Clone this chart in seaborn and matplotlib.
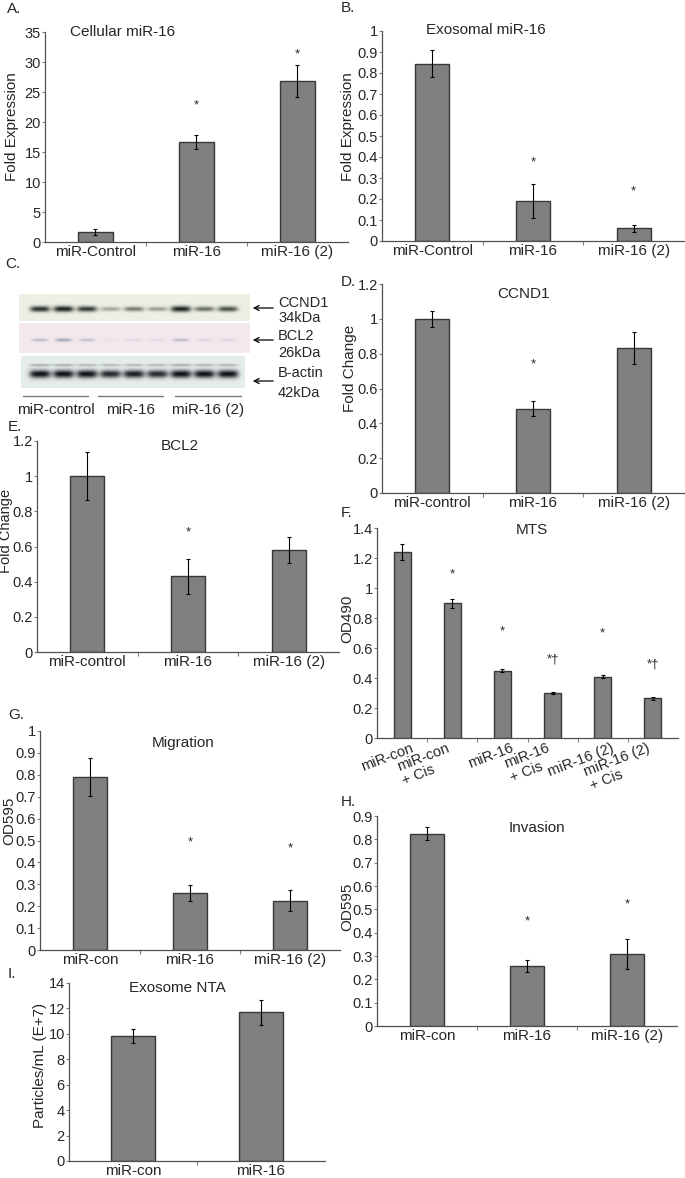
import numpy as np
import matplotlib
matplotlib.use("Agg")
import matplotlib.pyplot as plt
import matplotlib.transforms as mtransforms
import seaborn as sns

sns.set_theme(style="white")
plt.rcParams['font.family'] = ['Liberation Sans', 'DejaVu Sans']

W, H = 685, 1178
BAR = '#808080'
EDGE = '#383838'

# A - cellular miR-16
a_cats = ['miR-Control', 'miR-16', 'miR-16 (2)']
a_vals = [1.7, 16.7, 26.8]
a_errs = [0.5, 1.2, 2.7]
a_marks = ['', '*', '*']
a_mark_y = [0, 22.8, 31.3]

# B - exosomal miR-16
b_cats = ['miR-Control', 'miR-16', 'miR-16 (2)']
b_vals = [0.845, 0.19, 0.06]
b_errs = [0.063, 0.08, 0.015]
b_marks = ['', '*', '*']
b_mark_y = [0, 0.375, 0.235]

# C - western blot band intensities (9 lanes)
blot_groups = ['miR-control', 'miR-16', 'miR-16 (2)']
ccnd1_bands = [0.9, 0.97, 0.85, 0.35, 0.55, 0.4, 0.97, 0.6, 0.75]
bcl2_bands = [0.35, 0.5, 0.3, 0.06, 0.12, 0.1, 0.35, 0.14, 0.14]
actin_bands = [1.0, 1.0, 1.0, 0.9, 0.95, 0.9, 1.0, 1.0, 1.0]
actin_upper = [0.3, 0.3, 0.25, 0.25, 0.25, 0.25, 0.3, 0.25, 0.25]

# D - CCND1
d_cats = ['miR-control', 'miR-16', 'miR-16 (2)']
d_vals = [1.0, 0.485, 0.833]
d_errs = [0.045, 0.045, 0.093]
d_marks = ['', '*', '']
d_mark_y = [0, 0.74, 0]

# E - BCL2
e_cats = ['miR-control', 'miR-16', 'miR-16 (2)']
e_vals = [1.0, 0.43, 0.58]
e_errs = [0.135, 0.1, 0.075]
e_marks = ['', '*', '']
e_mark_y = [0, 0.68, 0]

# F - MTS
f_cats = ['miR-con', 'miR-con\n+ Cis', 'miR-16', 'miR-16\n+ Cis', 'miR-16 (2)', 'miR-16 (2)\n+ Cis']
f_vals = [1.24, 0.90, 0.45, 0.30, 0.41, 0.265]
f_errs = [0.05, 0.03, 0.01, 0.008, 0.01, 0.01]
f_marks = ['', '*', '*', '*†', '*', '*†']
f_mark_y = [0, 1.09, 0.71, 0.52, 0.70, 0.49]

# G - migration
g_cats = ['miR-con', 'miR-16', 'miR-16 (2)']
g_vals = [0.79, 0.26, 0.225]
g_errs = [0.085, 0.037, 0.047]
g_marks = ['', '*', '*']
g_mark_y = [0, 0.49, 0.465]

# H - invasion
h_cats = ['miR-con', 'miR-16', 'miR-16 (2)']
h_vals = [0.825, 0.257, 0.31]
h_errs = [0.027, 0.027, 0.065]
h_marks = ['', '*', '*']
h_mark_y = [0, 0.45, 0.52]

# I - exosome NTA
i_cats = ['miR-con', 'miR-16']
i_vals = [9.85, 11.7]
i_errs = [0.55, 1.0]

fig = plt.figure(figsize=(W / 100, H / 100), dpi=100)


def px_axes(l, t, r, b):
    return fig.add_axes([l / W, 1 - b / H, (r - l) / W, (b - t) / H])


def ftext(x, y, s, **kw):
    kw.setdefault('fontsize', 11)
    kw.setdefault('va', 'center')
    fig.text(x / W, 1 - y / H, s, **kw)


def bar_panel(ax, cats, vals, errs, top, step, marks=None, mark_y=None, rot=0):
    sns.barplot(x=cats, y=vals, color=BAR, edgecolor=EDGE, linewidth=1,
                width=0.34, saturation=1, ax=ax)
    x = np.arange(len(cats))
    ax.errorbar(x, vals, yerr=errs, fmt='none', ecolor='black',
                elinewidth=0.8, capsize=1.5, capthick=0.8)
    if marks:
        for xi, m, y in zip(x, marks, mark_y):
            if m:
                ax.text(xi, y, m, ha='center', va='center', fontsize=9.5)
    ax.set_xlim(-0.5, len(cats) - 0.5)
    ax.set_ylim(0, top)
    ticks = np.round(np.arange(0, top + step / 2, step), 3)
    ax.set_yticks(ticks)
    ax.set_yticklabels([f'{t:g}' for t in ticks])
    ax.set_xticks(x)
    if rot:
        # rotated two-line category labels, placed as texts under each bar
        ax.set_xticklabels([])
        base = mtransforms.blended_transform_factory(ax.transData, ax.transAxes)
        for xi, c in zip(x, cats):
            dx = -6 if '\n' in c else 8
            off = mtransforms.ScaledTranslation(dx / 100, -3 / 100, fig.dpi_scale_trans)
            ax.text(xi, 0, c, transform=base + off, rotation=rot, ha='right', va='top',
                    rotation_mode='anchor', multialignment='left',
                    linespacing=1.1, fontsize=10.5)
    else:
        ax.set_xticklabels(cats)
    ax.set_xticks(np.arange(0.5, len(cats) - 0.5), minor=True)
    ax.set_xlabel('')
    ax.set_ylabel('')
    sns.despine(ax=ax)
    for s in ['left', 'bottom']:
        ax.spines[s].set_color('#505050')
        ax.spines[s].set_linewidth(0.9)
    ax.tick_params(axis='y', length=2, width=0.8, pad=1, labelsize=10.5,
                   color='#808080', left=True, direction='out')
    ax.tick_params(axis='x', which='major', length=0, pad=2, labelsize=11)
    ax.tick_params(axis='x', which='minor', length=3, width=0.8,
                   color='#808080', bottom=True, direction='out')
    ax.set_facecolor('none')


# panel axes (pixel boxes: left, top, right, bottom)
axA = px_axes(45, 32, 348, 242)
bar_panel(axA, a_cats, a_vals, a_errs, 35, 5, a_marks, a_mark_y)
axB = px_axes(382, 31, 684, 241)
bar_panel(axB, b_cats, b_vals, b_errs, 1, 0.1, b_marks, b_mark_y)
axD = px_axes(382, 284, 684, 493)
bar_panel(axD, d_cats, d_vals, d_errs, 1.2, 0.2, d_marks, d_mark_y)
axE = px_axes(37, 441, 339, 652)
bar_panel(axE, e_cats, e_vals, e_errs, 1.2, 0.2, e_marks, e_mark_y)
axF = px_axes(377, 528, 678, 738)
bar_panel(axF, f_cats, f_vals, f_errs, 1.4, 0.2, f_marks, f_mark_y, rot=21)
axG = px_axes(40, 731, 340, 950)
bar_panel(axG, g_cats, g_vals, g_errs, 1, 0.1, g_marks, g_mark_y)
axH = px_axes(377, 816, 677, 1026)
bar_panel(axH, h_cats, h_vals, h_errs, 0.9, 0.1, h_marks, h_mark_y)
axI = px_axes(69, 983, 325, 1161)
bar_panel(axI, i_cats, i_vals, i_errs, 14, 2)

# titles, axis labels, panel letters
ftext(70, 32, 'Cellular miR-16', ha='left')
ftext(486, 30, 'Exosomal miR-16', ha='center')
ftext(523, 294, 'CCND1', ha='center')
ftext(180, 446, 'BCL2', ha='center')
ftext(532, 530, 'MTS', ha='center')
ftext(183, 743, 'Migration', ha='center')
ftext(537, 828, 'Invasion', ha='center')
ftext(177, 988, 'Exosome NTA', ha='center')

ftext(12, 127, 'Fold Expression', ha='center', rotation=90)
ftext(348, 127, 'Fold Expression', ha='center', rotation=90)
ftext(350, 368, 'Fold Change', ha='center', rotation=90)
ftext(6, 531, 'Fold Change', ha='center', rotation=90, fontsize=10.5)
ftext(347, 619, 'OD490', ha='center', rotation=90)
ftext(9, 821, 'OD595', ha='center', rotation=90)
ftext(347, 907, 'OD595', ha='center', rotation=90)
ftext(40, 1065, 'Particles/mL (E+7)', ha='center', rotation=90)

for letter, x, y in [('A.', 7, 9), ('B.', 341, 8), ('C.', 5, 264), ('D.', 341, 282),
                     ('E.', 8, 427), ('F.', 341, 513), ('G.', 8, 715),
                     ('H.', 341, 802), ('I.', 8, 974)]:
    ftext(x, y, letter, ha='left')

# C - western blot drawn on an overlay in pixel coordinates
ov = fig.add_axes([0, 0, 1, 1], zorder=-1)
lanes = np.linspace(40, 228, 9)


def blot(x0, x1, y0, y1, bands, bg, ink, band_y, bw, bh, extra=None, extra_y=None):
    xs = np.linspace(x0, x1, int((x1 - x0) * 4))
    ys = np.linspace(y0, y1, int((y1 - y0) * 4))
    X, Y = np.meshgrid(xs, ys)
    dens = np.zeros_like(X)
    for lx, lv in zip(lanes, bands):
        hh = bh * (0.55 + 0.45 * lv)
        dens += lv * np.exp(-((X - lx) / bw) ** 4 - ((Y - band_y) / hh) ** 2)
    if extra is not None:
        for lx, lv in zip(lanes, extra):
            dens += lv * np.exp(-((X - lx) / bw) ** 4 - ((Y - extra_y) / 1.2) ** 2)
    dens = np.clip(dens, 0, 1)[..., None]
    img = np.array(bg)[None, None, :] * (1 - dens) + np.array(ink)[None, None, :] * dens
    ov.imshow(img, extent=(x0, x1, y1, y0), aspect='auto', interpolation='bilinear')


blot(19, 250, 294, 321, ccnd1_bands, (0.93, 0.94, 0.90), (0.08, 0.11, 0.08), 309, 10, 3.0)
blot(19, 250, 323, 353, bcl2_bands, (0.95, 0.91, 0.93), (0.32, 0.38, 0.50), 340, 8, 2.0)
blot(21, 245, 356, 388, actin_bands, (0.90, 0.93, 0.92), (0.05, 0.07, 0.09), 374, 10.5, 4.0,
     actin_upper, 365)

for y in [308, 340, 381]:
    ov.annotate('', xy=(250, y), xytext=(276, y),
                arrowprops=dict(arrowstyle='->', lw=0.9, color='black', mutation_scale=9))
for s, y in [('CCND1', 303), ('34kDa', 318), ('BCL2', 336), ('26kDa', 353),
             ('B-actin', 373), ('42kDa', 393)]:
    ov.text(278, y, s, fontsize=10.5, va='center', ha='left')

for grp, x0, x1 in zip(blot_groups, [23, 98, 175], [88, 163, 241]):
    ov.plot([x0, x1], [396, 396], color='#777777', lw=1)
    ov.text((x0 + x1) / 2, 410, grp, fontsize=11, ha='center', va='center')

ov.set_xlim(0, W)
ov.set_ylim(H, 0)
ov.axis('off')

fig.savefig('out.png', dpi=100)
